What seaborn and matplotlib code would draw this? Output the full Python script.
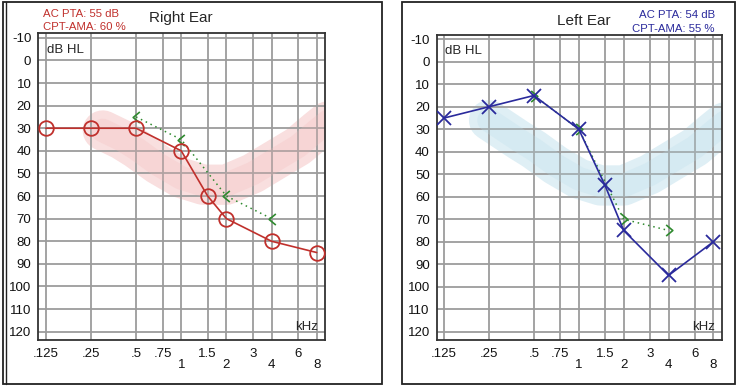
import numpy as np
import pandas as pd
import seaborn as sns
import matplotlib.pyplot as plt
from matplotlib.path import Path
from matplotlib.patches import Rectangle

# audiogram values (kHz, dB HL)
freqs = [0.125, 0.25, 0.5, 1, 1.5, 2, 4, 8]
right_ac = [30, 30, 30, 40, 60, 70, 80, 85]
left_ac = [25, 20, 15, 30, 55, 75, 95, 80]
bone_freqs = [0.5, 1, 2, 4]
right_bc = [25, 35, 60, 70]
left_bc = [15, 30, 70, 75]

# speech banana centre line
band_freqs = [0.3, 0.4, 0.5, 0.7, 1.0, 1.4, 2.0, 3.0, 4.0, 6.0, 8.0, 9.5]
band_db = [31, 35, 39, 46, 52, 55, 55, 50, 45, 38, 31, 27]
left_band_start = (0.25, 26)

row1_ticks = [0.125, 0.25, 0.5, 0.75, 1.5, 3, 6]
row1_labels = ['.125', '.25', '.5', '.75', '1.5', '3', '6']
row2_ticks = [1, 2, 4, 8]
row2_labels = ['1', '2', '4', '8']
db_ticks = list(range(-10, 121, 10))

RED = '#c0302c'
BLUE = '#2a2a9c'
GREEN = '#2f8a2f'

sns.set_style('white')
plt.rcParams['font.family'] = ['Liberation Sans', 'DejaVu Sans']

W, H = 737, 386
fig = plt.figure(figsize=(W / 100, H / 100), dpi=100)


def fx(px):
    return px / W


def fy(py):
    return 1 - py / H


chev_left = Path([(0.6, 1), (-0.6, 0), (0.6, -1)],
                 [Path.MOVETO, Path.LINETO, Path.LINETO])
chev_right = Path([(-0.6, 1), (0.6, 0), (-0.6, -1)],
                  [Path.MOVETO, Path.LINETO, Path.LINETO])


def setup_axes(ax, ytop):
    ax.set_xscale('log', base=2)
    ax.set_xlim(0.1114, 9.09)
    ax.set_ylim(123.7, ytop)
    ax.set_xticks(row1_ticks, row1_labels)
    ax.set_xticks(row2_ticks, row2_labels, minor=True)
    ax.set_yticks(db_ticks, [str(v) for v in db_ticks])
    ax.tick_params(which='both', length=0, labelsize=9.5, colors='#111')
    ax.tick_params(axis='x', which='major', pad=5.5)
    ax.tick_params(axis='x', which='minor', pad=13.5)
    ax.tick_params(axis='y', pad=5)
    ax.grid(which='both', color='#9c9c9c', lw=1.3, zorder=1)
    ax.set_axisbelow(True)
    for s in ax.spines.values():
        s.set_color('#333')
        s.set_linewidth(1.3)
    ax.set_xlabel('')
    ax.set_ylabel('')
    ax.text(0.03, 0.946, 'dB HL', transform=ax.transAxes, fontsize=9.5,
            va='center', ha='left')
    ax.text(0.975, 0.043, 'kHz', transform=ax.transAxes, fontsize=9.5,
            va='center', ha='right')


def draw_band(ax, color, start):
    bf = [start[0]] + band_freqs[1:]
    bd = [start[1]] + band_db[1:]
    ax.plot(bf, bd, color=color, lw=29, alpha=0.45,
            solid_capstyle='round', solid_joinstyle='round', zorder=0.5)
    ax.plot(bf, bd, color=color, lw=17, alpha=0.25,
            solid_capstyle='round', solid_joinstyle='round', zorder=0.6)


# right ear
axr = fig.add_axes([fx(38.3), fy(340), fx(325) - fx(38.3), (340 - 33.3) / H])
draw_band(axr, '#f2b8b8', (band_freqs[0], band_db[0]))
df_rbc = pd.DataFrame({'freq': bone_freqs, 'db': right_bc})
sns.lineplot(data=df_rbc, x='freq', y='db', ax=axr, color=GREEN, lw=1.1,
             linestyle=(0, (1, 2.5)), marker=chev_left, markersize=8,
             markerfacecolor='none', markeredgecolor=GREEN,
             markeredgewidth=1.2, errorbar=None, zorder=3)
df_rac = pd.DataFrame({'freq': freqs, 'db': right_ac})
sns.lineplot(data=df_rac, x='freq', y='db', ax=axr, color=RED, lw=1.2,
             marker='o', markersize=10.5, markerfacecolor='none',
             markeredgecolor=RED, markeredgewidth=1.3, errorbar=None,
             zorder=4)
setup_axes(axr, -12)

# left ear
axl = fig.add_axes([fx(436.7), fy(340), fx(721.7) - fx(436.7), (340 - 35) / H])
draw_band(axl, '#b8dcea', left_band_start)
df_lbc = pd.DataFrame({'freq': bone_freqs, 'db': left_bc})
sns.lineplot(data=df_lbc, x='freq', y='db', ax=axl, color=GREEN, lw=1.1,
             linestyle=(0, (1, 2.5)), marker=chev_right, markersize=8,
             markerfacecolor='none', markeredgecolor=GREEN,
             markeredgewidth=1.2, errorbar=None, zorder=3)
df_lac = pd.DataFrame({'freq': freqs, 'db': left_ac})
sns.lineplot(data=df_lac, x='freq', y='db', ax=axl, color=BLUE, lw=1.2,
             marker='x', markersize=10.5, markeredgecolor=BLUE,
             markeredgewidth=1.3, errorbar=None, zorder=4)
setup_axes(axl, -11.9)

# titles and summary text
fig.text(fx(181), fy(18), 'Right Ear', fontsize=11, ha='center', va='center')
fig.text(fx(43), fy(14), 'AC PTA: 55 dB', fontsize=8.2, color=RED,
         ha='left', va='center')
fig.text(fx(43), fy(27.5), 'CPT-AMA: 60 %', fontsize=8.2, color=RED,
         ha='left', va='center')
fig.text(fx(584), fy(21), 'Left Ear', fontsize=11, ha='center', va='center')
fig.text(fx(715), fy(15), 'AC PTA: 54 dB', fontsize=8.2, color=BLUE,
         ha='right', va='center')
fig.text(fx(715), fy(29), 'CPT-AMA: 55 %', fontsize=8.2, color=BLUE,
         ha='right', va='center')

# panel frames (left panel has a double edge)
for x0, x1 in [(2.5, 381.5), (401.5, 734.5)]:
    fig.add_artist(Rectangle((fx(x0), fy(383.5)), fx(x1) - fx(x0),
                             (383.5 - 1.5) / H, transform=fig.transFigure,
                             fill=False, ec='#222', lw=1.3))
fig.add_artist(plt.Line2D([fx(5.5), fx(5.5)], [fy(383.5), fy(1.5)],
                          transform=fig.transFigure, color='#222', lw=1.0))

fig.savefig('out.png', dpi=100)
